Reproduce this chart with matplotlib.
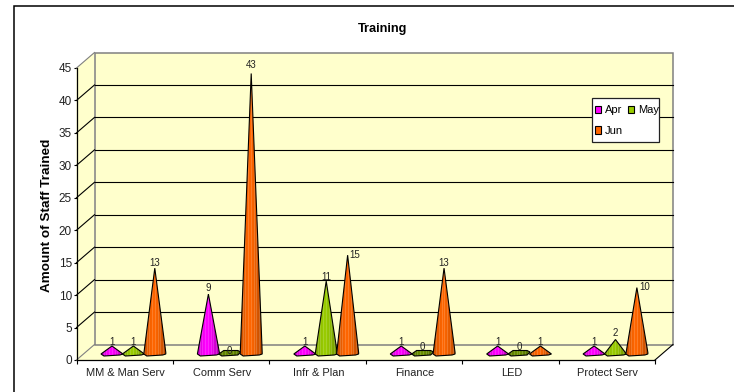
import matplotlib
matplotlib.use("Agg")
import matplotlib.pyplot as plt
from matplotlib.colors import to_rgb
from matplotlib.patches import Patch, Polygon, Rectangle
import numpy as np

plt.rcParams['font.family'] = ['Liberation Sans', 'DejaVu Sans']

categories = ["MM & Man Serv", "Comm Serv", "Infr & Plan", "Finance", "LED", "Protect Serv"]
months = ["Apr", "May", "Jun"]
apr = [1, 9, 1, 1, 1, 1]
may = [1, 0, 11, 0, 0, 2]
jun = [13, 43, 15, 13, 1, 10]
yticks = [0, 5, 10, 15, 20, 25, 30, 35, 40, 45]

W, H = 734, 392
LEFT, RIGHT, TOP, BOTTOM = 76.5, 655, 68, 360
PX = 6.0 / (RIGHT - LEFT)      # one pixel in category units
PY = 45.0 / (BOTTOM - TOP)     # one pixel in value units
DX, DY = 18 * PX, 15.5 * PY    # depth of the 3d box
FLOOR = 7.5 * PY               # cones stand in the middle of the floor

colors = {"Apr": "#FF00FF", "May": "#99CC00", "Jun": "#FF6600"}
zero_color = "#6B9000"
slots = [-0.222, 0.0, 0.222]   # cone position inside a category
centre_shift = 0.09

# label offsets in points, (dx, dy) from the cone tip
label_offset = {(0, 2): (0, -0.2), (1, 0): (0, 0.6), (1, 1): (0, -2.4), (1, 2): (0, 2.7),
                (2, 2): (5, -3.7), (3, 1): (0, 0.2), (3, 2): (0, -0.2), (4, 1): (0, 0.2),
                (5, 1): (0, 1.3), (5, 2): (5.8, -3)}


def shade(color, n=24):
    # vertical stripes, brighter left of the middle and darker on the edges
    base = np.array(to_rgb(color))
    col = np.zeros((1, n, 3))
    for i in range(n):
        t = (i + 0.5) / n
        k = 1.0 - 0.18 * abs(t - 0.45) ** 1.5 * 4
        c = base * k
        if i % 3 == 0:
            c = c + (1 - c) * 0.16
        col[0, i] = c
    return col


def cone(ax, x, value, color, z):
    hw = 11 * PX
    base = FLOOR - 1.5 * PY
    low = FLOOR - 3.5 * PY
    if value == 0:
        pts = [(x - hw, base), (x - 6 * PX, FLOOR + 2 * PY), (x + 8 * PX, FLOOR + 2 * PY),
               (x + hw, FLOOR + 0.5 * PY), (x + 8 * PX, low + PY), (x - 8 * PX, low)]
        color = zero_color
    elif value < 3:
        pts = [(x, FLOOR + value), (x + hw, base), (x + 8 * PX, low + PY),
               (x - 8 * PX, low), (x - hw, base)]
    else:
        pts = [(x, FLOOR + value), (x + hw, base + 1.5 * PY), (x + hw, base),
               (x + 8 * PX, low + PY), (x - 8 * PX, low), (x - hw, base)]
    outline = Polygon(pts, closed=True, fc="none", ec="black", lw=0.8, zorder=z + 0.1, clip_on=False)
    ax.add_patch(outline)
    top = FLOOR + max(value, 1)
    img = ax.imshow(shade(color), extent=(x - hw, x + hw, low, top), aspect="auto",
                    interpolation="nearest", zorder=z)
    img.set_clip_path(outline)


fig = plt.figure(figsize=(W / 100, H / 100), dpi=100)
ax = fig.add_axes([LEFT / W, 1 - BOTTOM / H, (RIGHT - LEFT) / W, (BOTTOM - TOP) / H])

# outer frame, only the left and top sides fall inside the figure
fig.add_artist(Rectangle((14 / W, -0.2), 1.2, 1.2 - 6 / H, transform=fig.transFigure,
                         fc="none", ec="black", lw=1.1))

# box walls
wall = "#FFFFCC"
edge = "#808080"
ax.add_patch(Polygon([(0, 0), (0, 45), (DX, 45 + DY), (DX, DY)], fc=wall, ec="none", zorder=1, clip_on=False))
ax.add_patch(Polygon([(0, 0), (6, 0), (6 + DX, DY), (DX, DY)], fc=wall, ec="none", zorder=1, clip_on=False))
ax.add_patch(Rectangle((DX, DY), 6, 45, fc=wall, ec=edge, lw=1.1, zorder=1, clip_on=False))
for v in yticks:
    c = edge if v in (0, 45) else "black"
    ax.plot([0, DX], [v, v + DY], color=c, lw=0.8, zorder=2, clip_on=False)
    if v not in (0, 45):
        ax.plot([DX, 6 + DX], [v + DY, v + DY], color="black", lw=0.8, zorder=2, clip_on=False)
ax.plot([6, 6 + DX], [0, DY], color="black", lw=0.8, zorder=2, clip_on=False)

series = [apr, may, jun]
for c in range(len(categories)):
    for s, values in enumerate(series):
        x = c + 0.5 + centre_shift + slots[s]
        cone(ax, x, values[c], colors[months[s]], 3 + c + s * 0.2)
        ox, oy = label_offset.get((c, s), (0, -0.8))
        ax.annotate(str(values[c]), (x, FLOOR + values[c]), xytext=(ox, oy), textcoords="offset points",
                    ha="center", va="bottom", fontsize=7, color="#222222", zorder=20, annotation_clip=False)

ax.set_xlim(0, 6)
ax.set_ylim(0, 45)
ax.patch.set_visible(False)
for side in ("top", "right"):
    ax.spines[side].set_visible(False)
for side in ("left", "bottom"):
    ax.spines[side].set_zorder(2.5)
    ax.spines[side].set_linewidth(0.9)
ax.set_yticks(yticks)
ax.set_xticks(range(7))
ax.set_xticklabels([])
ax.set_xticks(np.arange(6) + 0.51, categories, minor=True)
ax.tick_params(axis="x", which="minor", length=0, labelsize=7.9, pad=6, labelcolor="#222222")
ax.tick_params(axis="x", which="major", length=3, width=0.8)
ax.tick_params(axis="y", length=2.2, width=0.8, labelsize=8.5, pad=1, labelcolor="#222222")

fig.text(382.5 / W, 1 - 29 / H, "Training", ha="center", va="center", fontsize=9.2, fontweight="bold")
fig.text(47.5 / W, 1 - 215 / H, "Amount of Staff Trained", rotation=90, ha="center", va="center",
         fontsize=9.7, fontweight="bold")

# legend box has a fixed size, May runs right up to its edge
ax.add_patch(Rectangle((591.5 / W, 1 - 142 / H), 67 / W, 44 / H, transform=fig.transFigure, fc="white",
                       ec="#222222", lw=0.9, zorder=29, clip_on=False))
# column filling order puts Jun under Apr
handles = [Patch(fc=colors[m], ec="black", lw=0.8, label=m) for m in ("Apr", "Jun", "May")]
leg = ax.legend(handles=handles, ncol=2, loc="upper left", bbox_to_anchor=((591 - LEFT) / (RIGHT - LEFT), (BOTTOM - 101.5) / (BOTTOM - TOP)),
                borderaxespad=0, fontsize=8, handlelength=0.55, handleheight=0.65, handletextpad=0.35,
                columnspacing=0.45, borderpad=0.35, labelspacing=0.95, frameon=False)
leg.set_zorder(30)

fig.savefig("out.png", dpi=100)
